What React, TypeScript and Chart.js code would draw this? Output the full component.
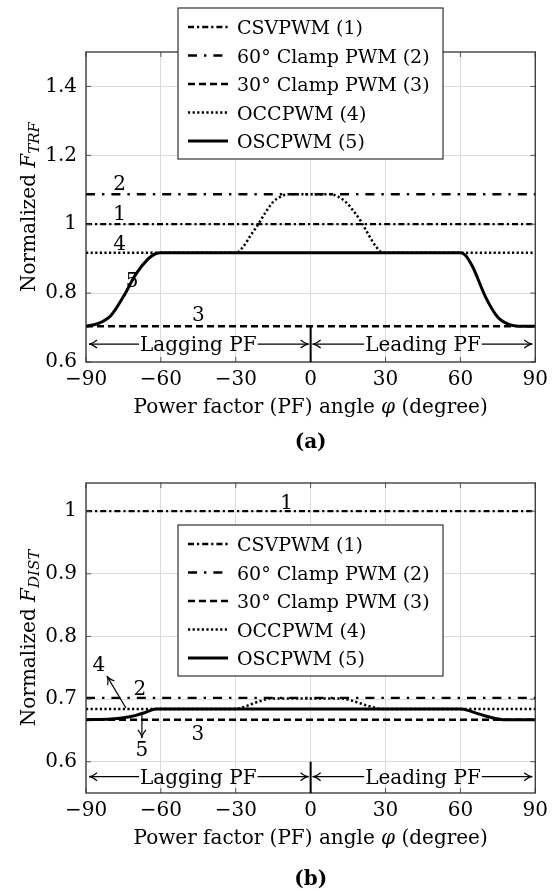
import React, { useEffect, useRef } from "react";
import { Chart, registerables } from "chart.js";

Chart.register(...registerables);

const FAMILY = "'DejaVu Serif', 'Liberation Serif', serif";
const FS = 20;
const INK = "#000";

// ---------------- shared data ----------------
const X_MIN = -90;
const X_MAX = 90;
const X_TICKS = [-90, -60, -30, 0, 30, 60, 90];
const SERIES_NAMES = ["CSVPWM (1)", "60° Clamp PWM (2)", "30° Clamp PWM (3)", "OCCPWM (4)", "OSCPWM (5)"];
const CURVE_IDS = ["1", "2", "3", "4", "5"];
const REGION_NAMES = ["Lagging PF", "Leading PF"];
const REGION_BOUNDS = [-90, 0, 90];
const X_TITLE_PARTS = ["Power factor (PF) angle ", "φ", " (degree)"];

// ---------------- panel (a) data ----------------
const A_Y_MIN = 0.6;
const A_Y_MAX = 1.5;
const A_Y_TICKS = [0.6, 0.8, 1.0, 1.2, 1.4];
const A_Y_TICK_LABELS = ["0.6", "0.8", "1", "1.2", "1.4"];
const A_FLAT_X = [-90, 90];
const A_CSV = [1.0, 1.0];
const A_CLAMP60 = [1.087, 1.087];
const A_CLAMP30 = [0.704, 0.704];
const A_OCC_X = [-90, -30, -27, -24, -21, -18, -15, -12, -9, 8, 11, 14, 17, 20, 23, 26, 29, 90];
const A_OCC_Y = [0.917, 0.917, 0.935, 0.968, 1.0, 1.035, 1.065, 1.08, 1.087, 1.087, 1.08, 1.065, 1.04, 1.01, 0.972, 0.937, 0.917, 0.917];
const A_OSC_X = [-90, -85, -80, -75, -70, -65, -62, -60, 60, 62, 65, 70, 75, 80, 85, 90];
const A_OSC_Y = [0.704, 0.712, 0.735, 0.79, 0.855, 0.9, 0.915, 0.917, 0.917, 0.91, 0.875, 0.79, 0.73, 0.708, 0.704, 0.704];
const A_LABEL_X = [-76.5, -76.5, -45, -76.5, -71.5];
const A_LABEL_Y = [1.032, 1.119, 0.739, 0.945, 0.838];
const A_PF_Y = 0.652;
const A_DIVIDER_TOP = 0.704;

// ---------------- panel (b) data ----------------
const B_Y_MIN = 0.55;
const B_Y_MAX = 1.045;
const B_Y_TICKS = [0.6, 0.7, 0.8, 0.9, 1.0];
const B_Y_TICK_LABELS = ["0.6", "0.7", "0.8", "0.9", "1"];
const B_FLAT_X = [-90, 90];
const B_CSV = [1.0, 1.0];
const B_CLAMP60 = [0.702, 0.702];
const B_CLAMP30 = [0.667, 0.667];
const B_OCC_X = [-90, -30, -27, -24, -20, -16, 12, 16, 20, 24, 29, 90];
const B_OCC_Y = [0.684, 0.684, 0.687, 0.6915, 0.697, 0.701, 0.701, 0.698, 0.693, 0.688, 0.684, 0.684];
const B_OSC_X = [-90, -80, -75, -70, -66, -62, 60, 63, 66, 70, 74, 78, 90];
const B_OSC_Y = [0.667, 0.668, 0.67, 0.674, 0.679, 0.684, 0.684, 0.682, 0.678, 0.673, 0.669, 0.667, 0.667];
const B_LABEL_X = [-9.6, -68.4, -45.2, -84.8, -67.6];
const B_LABEL_Y = [1.014, 0.7175, 0.646, 0.756, 0.62];
const B_ARROW_4 = [-74, 0.6857, -81.6, 0.7366];
const B_ARROW_5 = [-67.6, 0.676, -67.6, 0.638];
const B_PF_Y = 0.576;
const B_DIVIDER_TOP = 0.6;

// ---------------- styles ----------------
const DASHES = [[6, 3, 2.2, 3], [9, 7, 2.4, 7], [7, 4], [2.2, 2.4], []];
const WIDTHS = [2.3, 2.3, 2.4, 2.5, 3];

type Panel = {
  height: number;
  areaTop: number;
  areaBottom: number;
  yMin: number;
  yMax: number;
  yTicks: number[];
  yTickLabels: string[];
  xs: number[][];
  ys: number[][];
  labelX: number[];
  labelY: number[];
  arrows: number[][];
  pfY: number;
  dividerTop: number;
  legend: number[];
  sub: string;
  caption: string;
  captionOffset: number;
};

const PANEL_A: Panel = {
  height: 460,
  areaTop: 52,
  areaBottom: 362,
  yMin: A_Y_MIN,
  yMax: A_Y_MAX,
  yTicks: A_Y_TICKS,
  yTickLabels: A_Y_TICK_LABELS,
  xs: [A_FLAT_X, A_FLAT_X, A_FLAT_X, A_OCC_X, A_OSC_X],
  ys: [A_CSV, A_CLAMP60, A_CLAMP30, A_OCC_Y, A_OSC_Y],
  labelX: A_LABEL_X,
  labelY: A_LABEL_Y,
  arrows: [],
  pfY: A_PF_Y,
  dividerTop: A_DIVIDER_TOP,
  legend: [178, 8, 443, 159],
  sub: "TRF",
  caption: "(a)",
  captionOffset: 86,
};

const PANEL_B: Panel = {
  height: 431,
  areaTop: 23,
  areaBottom: 333,
  yMin: B_Y_MIN,
  yMax: B_Y_MAX,
  yTicks: B_Y_TICKS,
  yTickLabels: B_Y_TICK_LABELS,
  xs: [B_FLAT_X, B_FLAT_X, B_FLAT_X, B_OCC_X, B_OSC_X],
  ys: [B_CSV, B_CLAMP60, B_CLAMP30, B_OCC_Y, B_OSC_Y],
  labelX: B_LABEL_X,
  labelY: B_LABEL_Y,
  arrows: [B_ARROW_4, B_ARROW_5],
  pfY: B_PF_Y,
  dividerTop: B_DIVIDER_TOP,
  legend: [178, 65, 443, 216],
  sub: "DIST",
  caption: "(b)",
  captionOffset: 92,
};

const fmtX = (v: number) => (v < 0 ? "\u2212" + Math.abs(v) : String(v));

function arrowHead(ctx: CanvasRenderingContext2D, x: number, y: number, ang: number) {
  const L = 8, W = 4;
  const c = Math.cos(ang), s = Math.sin(ang);
  ctx.beginPath();
  ctx.moveTo(x - L * c - W * s, y - L * s + W * c);
  ctx.quadraticCurveTo(x - 3 * c, y - 3 * s, x, y);
  ctx.quadraticCurveTo(x - 3 * c, y - 3 * s, x - L * c + W * s, y - L * s - W * c);
  ctx.stroke();
}

function line(ctx: CanvasRenderingContext2D, x0: number, y0: number, x1: number, y1: number) {
  ctx.beginPath();
  ctx.moveTo(x0, y0);
  ctx.lineTo(x1, y1);
  ctx.stroke();
}

function makeOverlay(p: Panel) {
  return {
    id: "overlay",
    afterDraw(chart: any) {
      const ctx: CanvasRenderingContext2D = chart.ctx;
      const sx = chart.scales.x;
      const sy = chart.scales.y;
      const a = chart.chartArea;
      ctx.save();
      ctx.setLineDash([]);
      ctx.lineCap = "butt";

      // inner tick marks
      ctx.strokeStyle = "#555";
      ctx.lineWidth = 1;
      for (const v of X_TICKS) {
        const px = sx.getPixelForValue(v);
        line(ctx, px, a.bottom, px, a.bottom - 5);
        line(ctx, px, a.top, px, a.top + 5);
      }
      for (const v of p.yTicks) {
        const py = sy.getPixelForValue(v);
        line(ctx, a.left, py, a.left + 5, py);
        line(ctx, a.right, py, a.right - 5, py);
      }
      // frame
      ctx.strokeStyle = "#333";
      ctx.lineWidth = 1.3;
      ctx.strokeRect(a.left, a.top, a.right - a.left, a.bottom - a.top);

      // divider at 0
      ctx.strokeStyle = INK;
      ctx.lineWidth = 2;
      const x0 = sx.getPixelForValue(0);
      line(ctx, x0, sy.getPixelForValue(p.yMin), x0, sy.getPixelForValue(p.dividerTop));

      // region arrows
      ctx.font = `${FS}px ${FAMILY}`;
      ctx.fillStyle = INK;
      ctx.lineWidth = 1.3;
      ctx.textAlign = "center";
      ctx.textBaseline = "alphabetic";
      const py = sy.getPixelForValue(p.pfY);
      for (let r = 0; r < REGION_NAMES.length; r++) {
        const xl = sx.getPixelForValue(REGION_BOUNDS[r]) + (r === 0 ? 3 : 2);
        const xr = sx.getPixelForValue(REGION_BOUNDS[r + 1]) - (r === 0 ? 2 : 3);
        const cx = (sx.getPixelForValue(REGION_BOUNDS[r]) + sx.getPixelForValue(REGION_BOUNDS[r + 1])) / 2;
        const w = ctx.measureText(REGION_NAMES[r]).width;
        line(ctx, xl, py, cx - w / 2 - 1, py);
        line(ctx, cx + w / 2 + 1, py, xr, py);
        arrowHead(ctx, xl, py, Math.PI);
        arrowHead(ctx, xr, py, 0);
        ctx.fillText(REGION_NAMES[r], cx, py + 7);
      }

      // curve labels
      for (let i = 0; i < CURVE_IDS.length; i++) {
        ctx.fillText(CURVE_IDS[i], sx.getPixelForValue(p.labelX[i]), sy.getPixelForValue(p.labelY[i]) + 7);
      }
      // pointer arrows
      ctx.lineWidth = 1.2;
      for (const ar of p.arrows) {
        const ax0 = sx.getPixelForValue(ar[0]), ay0 = sy.getPixelForValue(ar[1]);
        const ax1 = sx.getPixelForValue(ar[2]), ay1 = sy.getPixelForValue(ar[3]);
        line(ctx, ax0, ay0, ax1, ay1);
        arrowHead(ctx, ax1, ay1, Math.atan2(ay1 - ay0, ax1 - ax0));
      }

      // legend
      const [lx0, ly0, lx1, ly1] = p.legend;
      ctx.fillStyle = "#fff";
      ctx.fillRect(lx0, ly0, lx1 - lx0, ly1 - ly0);
      ctx.strokeStyle = "#333";
      ctx.lineWidth = 1.2;
      ctx.strokeRect(lx0, ly0, lx1 - lx0, ly1 - ly0);
      ctx.font = `19px ${FAMILY}`;
      ctx.textAlign = "left";
      ctx.fillStyle = INK;
      for (let i = 0; i < SERIES_NAMES.length; i++) {
        const ry = ly0 + 19 + i * 28.5;
        ctx.strokeStyle = INK;
        ctx.lineWidth = WIDTHS[i];
        ctx.setLineDash(DASHES[i]);
        line(ctx, lx0 + 10, ry, lx0 + 50, ry);
        ctx.setLineDash([]);
        ctx.fillText(SERIES_NAMES[i], lx0 + 59, ry + 7);
      }

      // y title (rotated)
      ctx.save();
      ctx.translate(28, (a.top + a.bottom) / 2);
      ctx.rotate(-Math.PI / 2);
      const fMain = `${FS}px ${FAMILY}`;
      const fIt = `italic ${FS}px ${FAMILY}`;
      const fSub = `italic 15px ${FAMILY}`;
      ctx.font = fMain;
      const w1 = ctx.measureText("Normalized ").width;
      ctx.font = fIt;
      const w2 = ctx.measureText("F").width;
      ctx.font = fSub;
      const w3 = ctx.measureText(p.sub).width;
      let tx = -(w1 + w2 + w3) / 2;
      ctx.textAlign = "left";
      ctx.font = fMain;
      ctx.fillText("Normalized ", tx, 7);
      tx += w1;
      ctx.font = fIt;
      ctx.fillText("F", tx, 7);
      tx += w2;
      ctx.font = fSub;
      ctx.fillText(p.sub, tx, 11);
      ctx.restore();

      // x title
      const fonts = [`${FS}px ${FAMILY}`, `italic ${FS}px ${FAMILY}`, `${FS}px ${FAMILY}`];
      let total = 0;
      const widths: number[] = [];
      for (let i = 0; i < X_TITLE_PARTS.length; i++) {
        ctx.font = fonts[i];
        widths.push(ctx.measureText(X_TITLE_PARTS[i]).width);
        total += widths[i];
      }
      let xx = (a.left + a.right) / 2 - total / 2;
      ctx.textAlign = "left";
      for (let i = 0; i < X_TITLE_PARTS.length; i++) {
        ctx.font = fonts[i];
        ctx.fillText(X_TITLE_PARTS[i], xx, a.bottom + 51);
        xx += widths[i];
      }

      // caption
      ctx.font = `bold ${FS}px ${FAMILY}`;
      ctx.textAlign = "center";
      ctx.fillText(p.caption, (a.left + a.right) / 2, a.bottom + p.captionOffset);
      ctx.restore();
    },
  };
}

function PanelChart({ p, top }: { p: Panel; top: number }) {
  const ref = useRef<HTMLCanvasElement | null>(null);
  useEffect(() => {
    if (!ref.current) return;
    const font = { family: FAMILY, size: FS };
    const chart = new Chart(ref.current, {
      type: "line",
      data: {
        datasets: p.xs.map((xArr, i) => ({
          label: SERIES_NAMES[i],
          data: xArr.map((x, j) => ({ x, y: p.ys[i][j] })),
          borderColor: INK,
          borderWidth: WIDTHS[i],
          borderDash: DASHES[i],
          borderCapStyle: "butt",
          pointRadius: 0,
          fill: false,
          cubicInterpolationMode: "monotone",
          order: 5 - i,
        })),
      },
      options: {
        responsive: false,
        animation: false,
        devicePixelRatio: 1,
        events: [],
        layout: { padding: { top: p.areaTop, right: 18, bottom: 0, left: 0 } },
        plugins: {
          legend: { display: false },
          tooltip: { enabled: false },
          title: { display: false },
        },
        scales: {
          x: {
            type: "linear",
            min: X_MIN,
            max: X_MAX,
            afterBuildTicks: (s: any) => {
              s.ticks = X_TICKS.map((v) => ({ value: v }));
            },
            afterFit: (s: any) => {
              s.height = p.height - p.areaBottom;
            },
            ticks: {
              callback: (v: any) => fmtX(Number(v)),
              font,
              color: INK,
              padding: 6,
              maxRotation: 0,
              autoSkip: false,
            },
            grid: { color: "#dcdcdc", lineWidth: 1, drawTicks: false },
            border: { display: false },
          },
          y: {
            type: "linear",
            min: p.yMin,
            max: p.yMax,
            afterBuildTicks: (s: any) => {
              s.ticks = p.yTicks.map((v) => ({ value: v }));
            },
            afterFit: (s: any) => {
              s.width = 86;
            },
            ticks: {
              callback: (v: any) => {
                const k = p.yTicks.findIndex((t) => Math.abs(t - Number(v)) < 1e-9);
                return k >= 0 ? p.yTickLabels[k] : "";
              },
              font,
              color: INK,
              padding: 9,
              autoSkip: false,
            },
            grid: { color: "#dcdcdc", lineWidth: 1, drawTicks: false },
            border: { display: false },
          },
        },
      } as any,
      plugins: [makeOverlay(p)],
    } as any);
    return () => chart.destroy();
  }, [p]);
  return (
    <div style={{ position: "absolute", left: 0, top, width: 554, height: p.height }}>
      <canvas ref={ref} width={554} height={p.height} style={{ display: "block" }} />
    </div>
  );
}

export default function App() {
  return (
    <div style={{ position: "absolute", left: 0, top: 0, width: 554, height: 891, background: "#fff", overflow: "hidden" }}>
      <PanelChart p={PANEL_A} top={0} />
      <PanelChart p={PANEL_B} top={460} />
    </div>
  );
}
